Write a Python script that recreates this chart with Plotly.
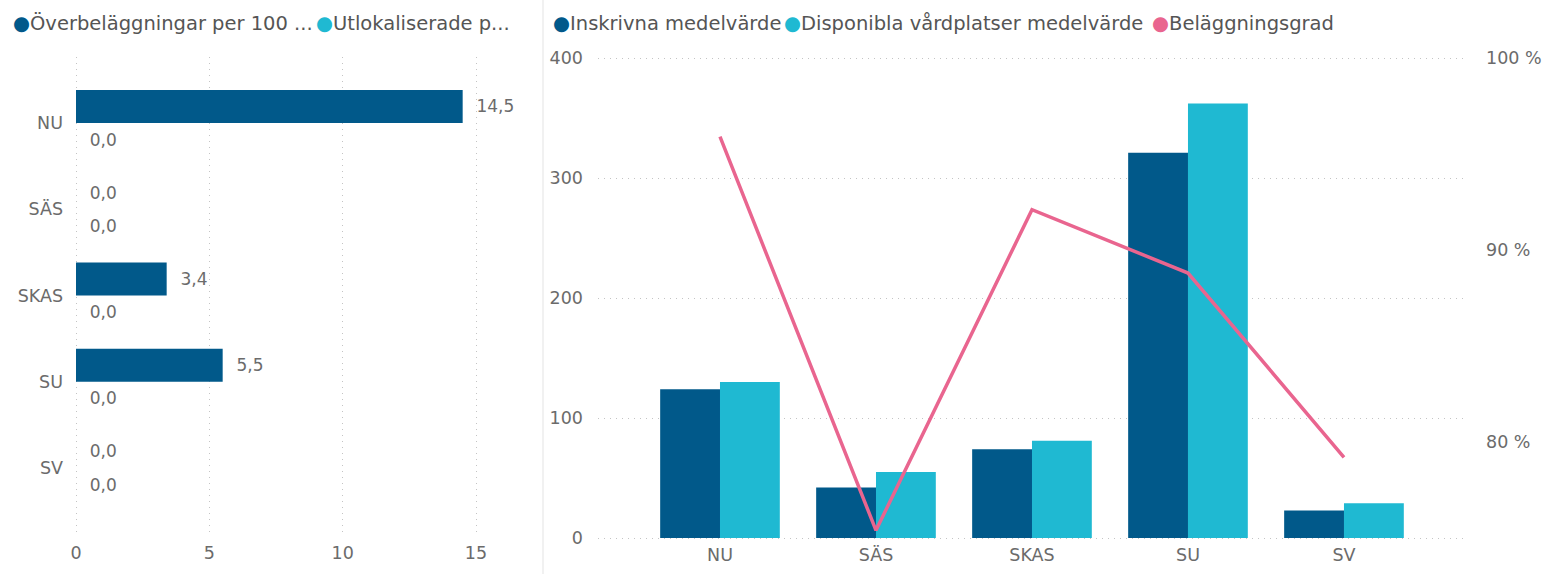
import plotly.graph_objects as go

# ---- data ----
sjukhus = ["NU", "SÄS", "SKAS", "SU", "SV"]

overbelaggningar = [14.5, 0.0, 3.4, 5.5, 0.0]
utlokaliserade = [0.0, 0.0, 0.0, 0.0, 0.0]

inskrivna = [124, 42, 74, 321, 23]
disponibla = [130, 55, 81, 362, 29]
belaggningsgrad = [95.9, 75.4, 92.1, 88.8, 79.2]

x_ticks_left = [0, 5, 10, 15]
y_ticks_right = [0, 100, 200, 300, 400]
y_ticks_pct = [80, 90, 100]
y_ticks_pct_text = ["80 %", "90 %", "100 %"]

W, H = 1542, 574
DARK = "#01598A"
CYAN = "#1FB9D2"
PINK = "#E9658F"
FONT = "DejaVu Sans, Verdana, sans-serif"
TICK = "#6b6b6b"
PAD = 4  # extra px so plotly keeps the edge gridlines

def px(x):
  return x / W

def py(y):
  return 1 - y / H

fig = go.Figure()

# left panel: horizontal bars
fig.add_trace(go.Bar(
  y=sjukhus, x=overbelaggningar, orientation="h", name="Överbeläggningar per 100",
  marker=dict(color=DARK, line=dict(width=0)),
  texttemplate="\u00a0\u00a0%{x:.1f}", textposition="outside", cliponaxis=False,
  textfont=dict(family=FONT, size=17, color=TICK),
  xaxis="x", yaxis="y", showlegend=False))
fig.add_trace(go.Bar(
  y=sjukhus, x=utlokaliserade, orientation="h", name="Utlokaliserade patienter",
  marker=dict(color=CYAN, line=dict(width=0)),
  texttemplate="\u00a0\u00a0%{x:.1f}", textposition="outside", cliponaxis=False,
  textfont=dict(family=FONT, size=17, color=TICK),
  xaxis="x", yaxis="y", showlegend=False))

# right panel: grouped bars + line on secondary axis
fig.add_trace(go.Bar(
  x=sjukhus, y=inskrivna, name="Inskrivna medelvärde",
  marker=dict(color=DARK, line=dict(width=0)),
  xaxis="x2", yaxis="y2", showlegend=False))
fig.add_trace(go.Bar(
  x=sjukhus, y=disponibla, name="Disponibla vårdplatser medelvärde",
  marker=dict(color=CYAN, line=dict(width=0)),
  xaxis="x2", yaxis="y2", showlegend=False))
fig.add_trace(go.Scatter(
  x=sjukhus, y=belaggningsgrad, name="Beläggningsgrad", mode="lines",
  line=dict(color=PINK, width=3.5),
  xaxis="x2", yaxis="y3", showlegend=False, cliponaxis=False))

grid = dict(showgrid=True, gridcolor="#c4c4c4", griddash="1px,5px", gridwidth=1.2, zeroline=False)
tickfont = dict(family=FONT, size=17.5, color=TICK)

# left x: 0 at 76px, 15 at 476px ; right y: 0 at 538px, 400 at 58px
lx_u = 15 / 400.0
ry_u = 400 / 480.0

fig.update_layout(
  width=W, height=H,
  margin=dict(l=0, r=0, t=0, b=0),
  paper_bgcolor="white", plot_bgcolor="white",
  barmode="group", bargap=0.233, bargroupgap=0,
  separators=", ",
  font=dict(family=FONT, color=TICK),
  xaxis=dict(domain=[px(76 - PAD), px(476 + PAD)], range=[-PAD * lx_u, 15 + PAD * lx_u],
             tickvals=x_ticks_left, tickfont=tickfont, ticklabelstandoff=3,
             automargin=False, **grid),
  yaxis=dict(domain=[py(537), py(57)], type="category", categoryarray=sjukhus,
             range=[4.80, -0.765], showgrid=False, zeroline=False,
             tickfont=tickfont, ticklabelstandoff=12 - PAD, automargin=False),
  xaxis2=dict(domain=[px(598), px(1468)], type="category", categoryarray=sjukhus,
              range=[-0.782, 4.795], showgrid=False, zeroline=False,
              tickfont=tickfont, ticklabelstandoff=4 - PAD, automargin=False, anchor="y2"),
  yaxis2=dict(domain=[py(538 + PAD), py(58 - PAD)], range=[-PAD * ry_u, 400 + PAD * ry_u],
              tickvals=y_ticks_right, tickfont=tickfont, ticklabelstandoff=14,
              automargin=False, anchor="x2", **grid),
  yaxis3=dict(overlaying="y2", side="right",
              range=[75 - PAD * 25 / 480.0, 100 + PAD * 25 / 480.0], tickvals=y_ticks_pct,
              ticktext=y_ticks_pct_text, showgrid=False, zeroline=False, anchor="x2",
              tickfont=tickfont, ticklabelstandoff=17, automargin=False),
)

# separator between the two visuals
fig.add_shape(type="line", xref="paper", yref="paper", x0=px(543), x1=px(543), y0=0, y1=1,
              line=dict(color="#ececec", width=1.5))

# legends (Power BI style, circle markers)
legend_items = [
  (11, DARK, "Överbeläggningar per 100 ..."),
  (314, CYAN, "Utlokaliserade p..."),
  (551, DARK, "Inskrivna medelvärde"),
  (782, CYAN, "Disponibla vårdplatser medelvärde"),
  (1150, PINK, "Beläggningsgrad"),
]
for lx, col, txt in legend_items:
  fig.add_annotation(
    x=px(lx), y=py(23), xref="paper", yref="paper", xanchor="left", yanchor="middle",
    showarrow=False,
    text="<span style='color:%s'>●</span>%s" % (col, txt),
    font=dict(family=FONT, size=19.5, color="#555555"))

fig.write_html("out.html", config={"displayModeBar": False},
               post_script="document.body.style.margin='0';")
